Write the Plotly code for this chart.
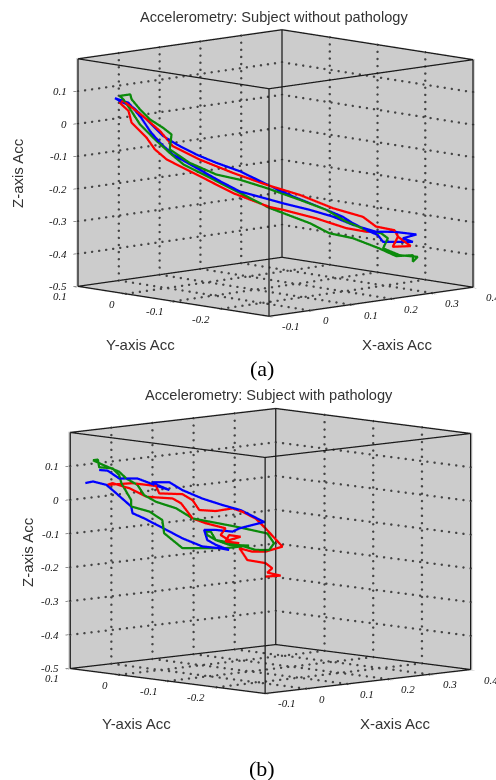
import numpy as np
import plotly.graph_objects as go

# Tick values
x_ticks = [-0.1, 0, 0.1, 0.2, 0.3, 0.4]
y_ticks = [-0.3, -0.2, -0.1, 0, 0.1]
y_labelled = [-0.2, -0.1, 0, 0.1]
z_ticks = [-0.5, -0.4, -0.3, -0.2, -0.1, 0, 0.1]
x_range = [-0.1, 0.4]
y_range = [-0.3, 0.1]
z_range = [-0.5, 0.2]
WALL_GAP = 0.002

# Panel (a): subject without pathology
a_blue_x = [-.053,-.036,-.020,-.009,.004,.020,.050,.084,.105,.143,.159,.193,.223,.248,.277,.300,.328,.311,.324,.303,.286,.279,.265,.248,.235,.214,.172,.151,.105,.075,.050,.025,.008,-.013,-.030,-.047,-.053]
a_blue_y = [.063,.049,.036,.027,.017,.004,-.020,-.047,-.064,-.094,-.108,-.135,-.158,-.178,-.202,-.221,-.243,-.229,-.239,-.222,-.209,-.204,-.192,-.178,-.168,-.152,-.118,-.101,-.064,-.040,-.020,0.0,.014,.031,.044,.058,.063]
a_blue_z = [.079,.065,.019,-.022,-.058,-.094,-.135,-.181,-.207,-.232,-.243,-.263,-.284,-.309,-.330,-.330,-.338,-.350,-.361,-.361,-.361,-.340,-.325,-.304,-.284,-.263,-.222,-.199,-.145,-.119,-.094,-.063,-.037,.014,.050,.071,.079]

a_red_x = [-.043,-.018,.004,.020,.054,.096,.138,.180,.223,.260,.277,.300,.305,.321,.298,.305,.303,.265,.239,.201,.159,.143,.096,.054,.012,-.003,-.013,-.032,-.036,-.047,-.043]
a_red_y = [.054,.034,.017,.004,-.023,-.057,-.091,-.125,-.158,-.189,-.202,-.221,-.224,-.237,-.219,-.224,-.222,-.192,-.172,-.141,-.108,-.094,-.057,-.023,.010,.022,.031,.046,.049,.058,.054]
a_red_z = [.071,.024,-.022,-.068,-.109,-.150,-.186,-.217,-.258,-.284,-.314,-.325,-.345,-.374,-.376,-.345,-.330,-.330,-.319,-.289,-.263,-.255,-.212,-.160,-.109,-.078,-.042,.004,.040,.065,.071]

a_green_x = [-.047,-.034,-.032,-.022,-.009,.008,.018,.016,.041,.075,.105,.138,.180,.214,.239,.265,.284,.292,.286,.307,.330,.324,.324,.303,.281,.248,.218,.193,.159,.143,.096,.063,.033,.016,-.005,-.022,-.034,-.043,-.047]
a_green_y = [.058,.047,.046,.037,.027,.014,.005,.007,-.013,-.040,-.064,-.091,-.125,-.152,-.172,-.192,-.207,-.214,-.209,-.226,-.244,-.239,-.239,-.222,-.205,-.178,-.155,-.135,-.108,-.094,-.057,-.030,-.007,.007,.024,.037,.047,.054,.058]
a_green_z = [.086,.091,.076,.045,.014,-.012,-.032,-.078,-.119,-.155,-.171,-.196,-.232,-.263,-.299,-.325,-.335,-.350,-.381,-.402,-.407,-.422,-.402,-.405,-.381,-.350,-.335,-.304,-.273,-.258,-.201,-.160,-.124,-.089,-.042,-.001,.045,.076,.086]

# Panel (b): subject with pathology
b_blue_x = [-.064,-.053,-.039,-.016,.011,.024,.009,.003,.024,.040,.065,.090,.113,.142,.111,.103,.082,.067,.071,.082,.098,.086,.065,.040,.020,-.008,-.022,-.024,-.045,-.055,-.072,-.081]
b_blue_y = [.071,.063,.051,.033,.011,.001,.013,.018,.001,-.012,-.032,-.052,-.070,-.094,-.069,-.062,-.045,-.034,-.037,-.045,-.059,-.049,-.032,-.012,.004,.026,.038,.039,.056,.064,.077,.085]
b_blue_z = [.089,.087,.064,.064,.040,.030,.045,.053,.053,.030,.005,-.014,-.029,-.064,-.083,-.093,-.088,-.088,-.118,-.132,-.147,-.142,-.137,-.113,-.088,-.054,-.039,-.019,.025,.045,.055,.050]

b_red_x = [.144,.163,.146,.152,.144,.121,.113,.111,.127,.144,.165,.144,.132,.115,.103,.082,.061,.053,.040,.011,.007,-.022,-.053,-.047,-.026,-.005,.028,.038,.053,.069,.094,.088,.098,.113,.098,.094,.111]
b_red_y = [-.095,-.110,-.097,-.102,-.095,-.077,-.070,-.069,-.082,-.095,-.112,-.095,-.085,-.072,-.062,-.045,-.029,-.022,-.012,.011,.014,.038,.063,.058,.041,.024,-.002,-.011,-.022,-.035,-.055,-.050,-.059,-.070,-.059,-.055,-.069]
b_red_z = [-.226,-.223,-.214,-.201,-.186,-.177,-.147,-.142,-.152,-.152,-.137,-.083,-.054,-.034,-.024,-.032,-.029,.000,.018,.020,.042,.050,.045,.050,.035,.010,.005,-.009,-.054,-.068,-.083,-.103,-.118,-.108,-.103,-.122,-.127]

b_green_x = [-.072,-.066,-.064,-.047,-.039,-.036,-.024,-.024,-.001,.015,.017,.040,.094,.123,.098,.082,.071,.069,.076,.082,.103,.132,.148,.154,.146,.107,.053,.032,.007,-.008,-.016,-.030,-.039,-.059,-.072]
b_green_y = [.077,.072,.071,.058,.051,.049,.039,.039,.021,.008,.006,-.012,-.055,-.079,-.059,-.045,-.037,-.035,-.040,-.045,-.062,-.085,-.099,-.104,-.097,-.065,-.022,-.006,.014,.026,.033,.044,.051,.067,.077]
b_green_z = [.118,.120,.097,.094,.074,.050,.000,-.019,-.034,-.059,-.098,-.142,-.142,-.134,-.132,-.118,-.103,-.093,-.093,-.118,-.127,-.147,-.147,-.127,-.098,-.078,-.054,-.024,-.005,.015,.045,.064,.084,.104,.118]

BLUE, RED, GREEN = "#0000ff", "#ff0000", "#0b8a0b"
fig = go.Figure()


def add_frame(scene):
    # dotted grid on the two back walls and the floor, solid box edges
    xs, ys, zs = [], [], []
    xd = np.linspace(*x_range, 30)
    yd = np.linspace(*y_range, 28)
    zd = np.linspace(*z_range, 33)
    def dots(ax, ay, az):
        n = max(np.size(ax), np.size(ay), np.size(az))
        xs.extend(np.broadcast_to(ax, n)); ys.extend(np.broadcast_to(ay, n)); zs.extend(np.broadcast_to(az, n))
    for t in x_ticks[1:-1]:
        dots(t, y_range[1], zd)
        dots(t, yd, z_range[0])
    for t in y_ticks[1:-1]:
        dots(x_range[1], t, zd)
        dots(xd, t, z_range[0])
    for t in z_ticks[1:]:
        dots(xd, y_range[1], t)
        dots(x_range[1], yd, t)
    fig.add_trace(go.Scatter3d(x=xs, y=ys, z=zs, mode="markers", scene=scene, hoverinfo="skip",
                               marker=dict(color="#444444", size=1.4, line=dict(width=0))))
    xs, ys, zs = [], [], []
    def seg(p, q):
        xs.extend([p[0], q[0], None]); ys.extend([p[1], q[1], None]); zs.extend([p[2], q[2], None])
    for a in x_range:
        for b in y_range:
            seg((a, b, z_range[0]), (a, b, z_range[1]))
    for zv in z_range:
        for a in x_range:
            seg((a, y_range[0], zv), (a, y_range[1], zv))
        for b in y_range:
            seg((x_range[0], b, zv), (x_range[1], b, zv))
    fig.add_trace(go.Scatter3d(x=xs, y=ys, z=zs, mode="lines", scene=scene, hoverinfo="skip",
                               line=dict(color="#1a1a1a", width=2.5)))


def add_curve(scene, x, y, z, color):
    fig.add_trace(go.Scatter3d(x=x, y=y, z=z, mode="lines", scene=scene, hoverinfo="skip",
                               line=dict(color=color, width=4.5)))


add_frame("scene")
add_curve("scene", a_blue_x, a_blue_y, a_blue_z, BLUE)
add_curve("scene", a_green_x, a_green_y, a_green_z, GREEN)
add_curve("scene", a_red_x, a_red_y, a_red_z, RED)
add_frame("scene2")
add_curve("scene2", b_blue_x, b_blue_y, b_blue_z, BLUE)
add_curve("scene2", b_green_x, b_green_y, b_green_z, GREEN)
add_curve("scene2", b_red_x, b_red_y, b_red_z, RED)


def axis(rng, ticks):
    return dict(range=[rng[0] - WALL_GAP, rng[1] + WALL_GAP], tickvals=ticks, showticklabels=False,
                title=dict(text=""), showgrid=False, zeroline=False, showline=False, showspikes=False,
                showbackground=True, backgroundcolor="#cccccc", ticks="outside", ticklen=4,
                tickcolor="#222222")


def tick_labels():
    # tick labels anchored at the data positions of the ticks along the box edges
    def lab(x, y, z, t, anchor, dx, dy):
        return dict(x=x, y=y, z=z, text=f"{t:g}", showarrow=False, xanchor=anchor, yanchor="middle",
                    xshift=dx, yshift=dy,
                    font=dict(family="Liberation Serif", size=11, color="#111111", style="italic"))
    out = [lab(t, y_range[0], z_range[0], t, "left", 11, -10) for t in x_ticks]
    out += [lab(x_range[0], t, z_range[0], t, "right", -9, -10) for t in y_labelled]
    out += [lab(x_range[0], y_range[1], t, t, "right", -9, 0) for t in z_ticks]
    return out


def scene_layout(domain_y, aspect, dz, dist, shift):
    c, s, h = -0.69, -0.7238, (1 - dz * dz) ** 0.5
    cx, cy = shift * s, -shift * c
    def grow(rng):
        return (rng[1] - rng[0] + 2 * WALL_GAP) / (rng[1] - rng[0])
    return dict(domain=dict(x=[0, 1], y=domain_y),
                xaxis=axis(x_range, x_ticks), yaxis=axis(y_range, y_labelled), zaxis=axis(z_range, z_ticks),
                annotations=tick_labels(),
                aspectmode="manual",
                aspectratio=dict(x=aspect[0] * grow(x_range), y=aspect[1] * grow(y_range), z=aspect[2] * grow(z_range)),
                camera=dict(projection=dict(type="orthographic"), up=dict(x=0, y=0, z=1),
                            center=dict(x=cx, y=cy, z=0),
                            eye=dict(x=cx + dist * h * c, y=cy + dist * h * s, z=dist * dz)))


def text(label, px, py, size=12, family="Liberation Sans", angle=0, color="#333333"):
    return dict(text=label, x=px / 496, y=1 - py / 780, xref="paper", yref="paper", showarrow=False,
                textangle=angle, xanchor="center", yanchor="middle",
                font=dict(family=family, size=size, color=color))


fig.update_layout(
    width=496, height=780, margin=dict(l=0, r=0, t=0, b=0), paper_bgcolor="white",
    showlegend=False, hovermode=False,
    scene=scene_layout([1 - 346 / 780, 1], (1.629, 1.6, 1.33), 0.1494, 3.0, 0.159),
    scene2=scene_layout([1 - 751 / 780, 1 - 351 / 780], (1.42, 1.412, 1.189), 0.1222, 3.0, 0.1122),
    annotations=[
        text("Accelerometry: Subject without pathology", 274, 17, size=14.6),
        text("Z-axis Acc", 17, 173, angle=-90, size=15),
        text("Y-axis Acc", 140, 344, size=15),
        text("X-axis Acc", 397, 344, size=15),
        text("(a)", 262, 368, size=22, family="Liberation Serif", color="black"),
        text("Accelerometry: Subject with pathology", 269, 395, size=14.6),
        text("Z-axis Acc", 27, 552, angle=-90, size=15),
        text("Y-axis Acc", 136, 723, size=15),
        text("X-axis Acc", 395, 723, size=15),
        text("(b)", 262, 768, size=22, family="Liberation Serif", color="black"),
    ],
)
fig.write_html("out.html", config=dict(displayModeBar=False),
               post_script="document.body.style.margin='0';")
